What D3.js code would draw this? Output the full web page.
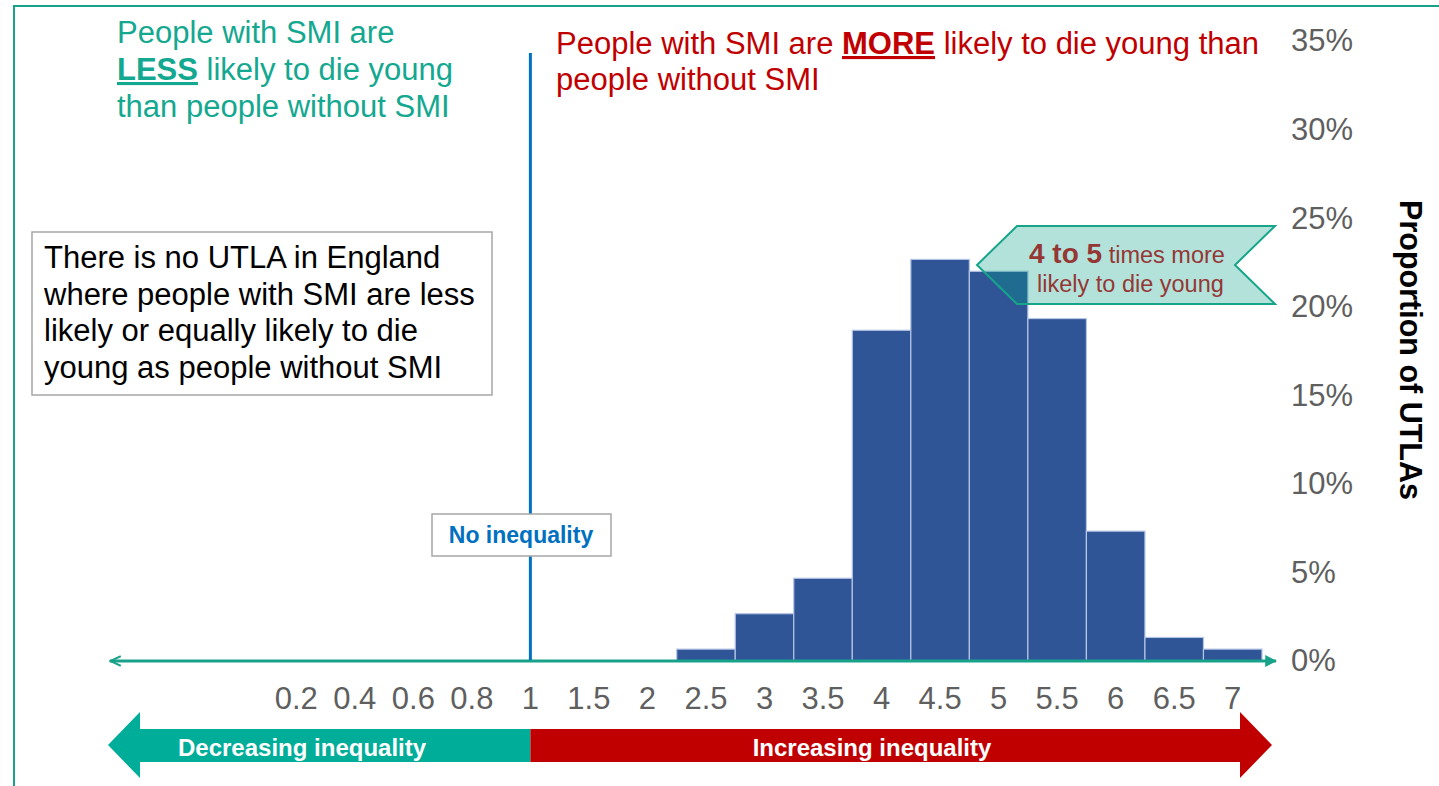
<!DOCTYPE html>
<html>
<head>
<meta charset="utf-8">
<script src="https://cdn.jsdelivr.net/npm/d3@7"></script>
<style>
  html, body { margin: 0; padding: 0; background: #fff; }
  svg { display: block; font-family: "Liberation Sans", Arial, sans-serif; }
</style>
</head>
<body>
<svg id="chart" width="1439" height="786"></svg>
<script>
// Ratio bins (SMI vs non-SMI premature mortality) and share of UTLAs in each bin (%)
const categories = ["0.2", "0.4", "0.6", "0.8", "1", "1.5", "2", "2.5", "3", "3.5", "4", "4.5", "5", "5.5", "6", "6.5", "7"];
const proportions = [0, 0, 0, 0, 0, 0, 0, 0.67, 2.67, 4.67, 18.67, 22.67, 22.0, 19.33, 7.33, 1.33, 0.67];
const yTicks = [0, 5, 10, 15, 20, 25, 30, 35];

const svg = d3.select("#chart");

const teal = "#14a890";
const tealLine = "#17a289";
const red = "#c00000";
const blue = "#0070c0";
const barFill = "#2f5597";

// Outer frame
svg.append("rect")
  .attr("x", 14).attr("y", 6).attr("width", 1450).attr("height", 800)
  .attr("fill", "none").attr("stroke", tealLine).attr("stroke-width", 2);

// Scales
const x = d3.scaleBand().domain(categories).range([267, 1262]).paddingInner(0).paddingOuter(0);
const y = d3.scaleLinear().domain([0, 35]).range([661, 41]);

// Bars
const bins = categories.map((c, i) => ({ cat: c, value: proportions[i] }));
svg.append("g").selectAll("rect")
  .data(bins.filter(d => d.value > 0))
  .join("rect")
  .attr("x", d => x(d.cat))
  .attr("y", d => y(d.value))
  .attr("width", x.bandwidth())
  .attr("height", d => y(0) - y(d.value))
  .attr("fill", barFill)
  .attr("stroke", "#b4c4e4")
  .attr("stroke-width", 1.2);

// Y axis on the right
const yAxis = svg.append("g")
  .attr("transform", "translate(1283,0)")
  .call(d3.axisRight(y).tickValues(yTicks).tickSize(0).tickPadding(8).tickFormat(d => d + "%"));
yAxis.select(".domain").remove();
yAxis.selectAll("text")
  .attr("font-family", "Liberation Sans, Arial, sans-serif")
  .attr("font-size", 31).attr("fill", "#5f5f5f");

// X axis labels
const xAxis = svg.append("g")
  .attr("transform", "translate(0,684)")
  .call(d3.axisBottom(x).tickSize(0).tickPadding(0));
xAxis.select(".domain").remove();
xAxis.selectAll("text")
  .attr("font-family", "Liberation Sans, Arial, sans-serif")
  .attr("font-size", 31).attr("fill", "#5f5f5f").attr("dy", "0.8em");

// Baseline arrow (double-headed)
const defs = svg.append("defs");
defs.append("marker")
  .attr("id", "headR").attr("viewBox", "0 0 10 10").attr("refX", 9).attr("refY", 5)
  .attr("markerWidth", 4).attr("markerHeight", 4).attr("orient", "auto")
  .append("path").attr("d", "M0,0 L10,5 L0,10 Z").attr("fill", tealLine);
defs.append("marker")
  .attr("id", "headL").attr("viewBox", "0 0 10 10").attr("refX", 1).attr("refY", 5)
  .attr("markerWidth", 4).attr("markerHeight", 4).attr("orient", "auto")
  .append("path").attr("d", "M10,1 L1,5 L10,9").attr("fill", "none")
  .attr("stroke", tealLine).attr("stroke-width", 1.6);
svg.append("line")
  .attr("x1", 110).attr("x2", 1276).attr("y1", y(0)).attr("y2", y(0))
  .attr("stroke", tealLine).attr("stroke-width", 3)
  .attr("marker-end", "url(#headR)").attr("marker-start", "url(#headL)");

// "No inequality" reference line at ratio 1
const x1 = x("1") + x.bandwidth() / 2;
svg.append("line")
  .attr("x1", x1).attr("x2", x1).attr("y1", 53).attr("y2", y(0) - 1)
  .attr("stroke", blue).attr("stroke-width", 3);

svg.append("rect")
  .attr("x", 432).attr("y", 514).attr("width", 179).attr("height", 42)
  .attr("fill", "#fff").attr("stroke", "#a6a6a6").attr("stroke-width", 1.5);
svg.append("text")
  .attr("x", 521).attr("y", 543).attr("text-anchor", "middle")
  .attr("font-size", 23).attr("font-weight", "bold").attr("fill", blue)
  .text("No inequality");

// Top-left heading (teal)
const tl = svg.append("text").attr("font-size", 31).attr("fill", teal);
tl.append("tspan").attr("x", 117).attr("y", 43).text("People with SMI are");
const tl2 = tl.append("tspan").attr("x", 117).attr("y", 80);
tl2.append("tspan").attr("font-weight", "bold").style("text-decoration", "underline").text("LESS");
tl2.append("tspan").text(" likely to die young");
tl.append("tspan").attr("x", 117).attr("y", 117).text("than people without SMI");

// Top-right heading (red)
const tr = svg.append("text").attr("font-size", 31).attr("fill", red);
const tr1 = tr.append("tspan").attr("x", 556).attr("y", 54);
tr1.append("tspan").text("People with SMI are ");
tr1.append("tspan").attr("font-weight", "bold").style("text-decoration", "underline").text("MORE");
tr1.append("tspan").text(" likely to die young than");
tr.append("tspan").attr("x", 556).attr("y", 90).text("people without SMI");

// Note box
svg.append("rect")
  .attr("x", 32).attr("y", 232).attr("width", 460).attr("height", 163)
  .attr("fill", "#fff").attr("stroke", "#a6a6a6").attr("stroke-width", 1.5);
const noteLines = [
  "There is no UTLA in England",
  "where people with SMI are less",
  "likely or equally likely to die",
  "young as people without SMI"
];
svg.append("text").attr("font-size", 31).attr("fill", "#000")
  .selectAll("tspan").data(noteLines).join("tspan")
  .attr("x", 44).attr("y", (d, i) => 268 + i * 36.7).text(d => d);

// Callout banner
svg.append("path")
  .attr("d", "M977,265 L1017,226 L1275,226 L1235,265 L1275,304 L1017,304 Z")
  .attr("fill", "#009f82").attr("fill-opacity", 0.3)
  .attr("stroke", "#17a58a").attr("stroke-width", 2);
const co = svg.append("text").attr("fill", "#953735");
const co1 = co.append("tspan").attr("x", 1029).attr("y", 263);
co1.append("tspan").attr("font-size", 28).attr("font-weight", "bold").text("4 to 5");
co1.append("tspan").attr("font-size", 23.5).text(" times more");
co.append("tspan").attr("x", 1037).attr("y", 292).attr("font-size", 23.5).text("likely to die young");

// Y axis title
svg.append("text")
  .attr("transform", "translate(1400,350) rotate(90)")
  .attr("text-anchor", "middle").attr("font-size", 30.5).attr("font-weight", "bold").attr("fill", "#000")
  .text("Proportion of UTLAs");

// Direction arrows under the axis
svg.append("path")
  .attr("d", `M108,745 L140,712 L140,729 L${x1},729 L${x1},762 L140,762 L140,778 Z`)
  .attr("fill", "#00ad98");
svg.append("path")
  .attr("d", `M${x1},729 L1240,729 L1240,712 L1272,745 L1240,778 L1240,762 L${x1},762 Z`)
  .attr("fill", red);
svg.append("text")
  .attr("x", 178).attr("y", 756).attr("font-size", 24).attr("font-weight", "bold").attr("fill", "#fff")
  .text("Decreasing inequality");
svg.append("text")
  .attr("x", 872).attr("y", 756).attr("text-anchor", "middle")
  .attr("font-size", 24).attr("font-weight", "bold").attr("fill", "#fff")
  .text("Increasing inequality");
</script>
</body>
</html>
